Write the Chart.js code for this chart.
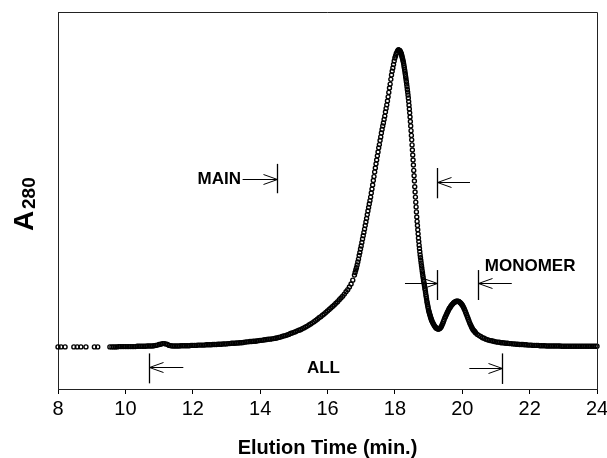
<!DOCTYPE html>
<html>
<head>
<meta charset="utf-8">
<script src="https://cdn.jsdelivr.net/npm/chart.js@4.4.0/dist/chart.umd.min.js"></script>
<style>
body { margin: 0; background: #fff; }
canvas { display: block; }
</style>
</head>
<body>
<canvas id="secChart" width="607" height="458"></canvas>
<script>
// elution time (min.)
var elutionTime = [
  8.00, 8.09, 8.21, 8.47, 8.57, 8.68, 8.83, 9.08, 9.18, 9.54,
  9.60, 9.65, 9.70, 9.75, 9.80, 9.85, 9.90, 9.95,
  10.00, 10.05, 10.10, 10.15, 10.20, 10.25, 10.30, 10.35, 10.40, 10.45, 10.50, 10.55, 10.60, 10.65, 10.70, 10.75, 10.80, 10.85, 10.90, 10.95,
  11.00, 11.05, 11.10, 11.15, 11.20, 11.25, 11.30, 11.35, 11.40, 11.45, 11.50, 11.55, 11.60, 11.65, 11.70, 11.75, 11.80, 11.85, 11.90, 11.95,
  12.00, 12.05, 12.10, 12.15, 12.20, 12.25, 12.30, 12.35, 12.40, 12.45, 12.50, 12.55, 12.60, 12.65, 12.70, 12.75, 12.80, 12.85, 12.90, 12.95,
  13.00, 13.05, 13.10, 13.15, 13.20, 13.25, 13.30, 13.35, 13.40, 13.45, 13.50, 13.55, 13.60, 13.65, 13.70, 13.75, 13.80, 13.85, 13.90, 13.95,
  14.00, 14.05, 14.10, 14.15, 14.20, 14.25, 14.30, 14.35, 14.40, 14.45, 14.50, 14.55, 14.60, 14.65, 14.70, 14.75, 14.80, 14.85, 14.90, 14.95,
  15.00, 15.05, 15.10, 15.15, 15.20, 15.25, 15.30, 15.35, 15.40, 15.45, 15.50, 15.55, 15.60, 15.65, 15.70, 15.75, 15.80, 15.85, 15.90, 15.95,
  16.00, 16.05, 16.10, 16.15, 16.20, 16.25, 16.30, 16.35, 16.40, 16.45, 16.50, 16.55, 16.60, 16.65, 16.70, 16.75, 16.80,
  16.82, 16.84, 16.86, 16.88, 16.90, 16.92, 16.94, 16.96, 16.98,
  17.00, 17.02, 17.04, 17.06, 17.08, 17.10, 17.12, 17.14, 17.16, 17.18,
  17.20, 17.22, 17.24, 17.26, 17.28, 17.30, 17.32, 17.34, 17.36, 17.38,
  17.40, 17.42, 17.44, 17.46, 17.48, 17.50, 17.52, 17.54, 17.56, 17.58,
  17.60, 17.62, 17.64, 17.66, 17.68, 17.70, 17.72, 17.74, 17.76, 17.78,
  17.80, 17.82, 17.84, 17.86, 17.88, 17.90, 17.92, 17.94, 17.96, 17.98,
  18.00, 18.02, 18.04, 18.06, 18.08, 18.10,
  18.11, 18.12, 18.13, 18.14, 18.15, 18.16, 18.17, 18.18, 18.19, 18.20,
  18.21, 18.22, 18.23, 18.24, 18.25, 18.26, 18.27, 18.28, 18.29, 18.30,
  18.31, 18.32, 18.33, 18.34, 18.35, 18.36, 18.37, 18.38, 18.39, 18.40,
  18.41, 18.42, 18.43, 18.44, 18.45, 18.46, 18.47, 18.48, 18.49, 18.50,
  18.51, 18.52, 18.53, 18.54, 18.55, 18.56, 18.57, 18.58, 18.59, 18.60,
  18.61, 18.62, 18.63, 18.64, 18.65, 18.66, 18.67, 18.68, 18.69, 18.70,
  18.71, 18.72, 18.73, 18.74, 18.75, 18.76, 18.77, 18.78, 18.79, 18.80,
  18.81, 18.82, 18.83, 18.84, 18.85, 18.86, 18.87, 18.88, 18.89, 18.90,
  18.91, 18.92, 18.93, 18.94, 18.95, 18.96, 18.97, 18.98, 18.99, 19.00,
  19.01, 19.02, 19.03, 19.04, 19.05, 19.06, 19.07, 19.08, 19.09, 19.10,
  19.12, 19.14, 19.16, 19.18, 19.20, 19.22, 19.24, 19.26, 19.28, 19.30,
  19.32, 19.34, 19.36, 19.38, 19.40, 19.42, 19.44, 19.46, 19.48, 19.50,
  19.52, 19.54, 19.56, 19.58, 19.60, 19.62, 19.64, 19.66, 19.68, 19.70,
  19.72, 19.74, 19.76, 19.78, 19.80, 19.82, 19.84, 19.86, 19.88, 19.90,
  19.92, 19.94, 19.96, 19.98, 20.00, 20.02, 20.04, 20.06, 20.08, 20.10,
  20.12, 20.14, 20.16, 20.18, 20.20, 20.22, 20.24, 20.26, 20.28, 20.30,
  20.32, 20.34, 20.36, 20.38, 20.40,
  20.45, 20.50, 20.55, 20.60, 20.65, 20.70, 20.75, 20.80, 20.85, 20.90, 20.95,
  21.00, 21.05, 21.10, 21.15, 21.20, 21.25, 21.30, 21.35, 21.40, 21.45, 21.50, 21.55, 21.60, 21.65, 21.70, 21.75, 21.80, 21.85, 21.90, 21.95,
  22.00, 22.05, 22.10, 22.15, 22.20, 22.25, 22.30, 22.35, 22.40, 22.45, 22.50, 22.55, 22.60, 22.65, 22.70, 22.75, 22.80, 22.85, 22.90, 22.95,
  23.00, 23.05, 23.10, 23.15, 23.20, 23.25, 23.30, 23.35, 23.40, 23.45, 23.50, 23.55, 23.60, 23.65, 23.70, 23.75, 23.80, 23.85, 23.90, 23.95,
  24.00
]
// A280 (mAU)
var absorbance = [
  -1, -1, -1, -1, -1, -1, -1, -1, -1, -1,
  -1, -1, -1, -1, 0, 0, 0, 0,
  0, 0, 0, 0, 0, 0, 0, 1, 1, 1, 1, 1, 1, 2, 2, 2, 2, 3, 4, 5,
  7, 8, 10, 10, 9, 7, 4, 3, 2, 2, 2, 2, 2, 3, 3, 3, 3, 3, 3, 4,
  4, 4, 4, 5, 5, 5, 5, 5, 6, 6, 6, 6, 7, 7, 7, 8, 8, 8, 9, 9,
  9, 10, 10, 11, 11, 11, 12, 12, 13, 13, 14, 15, 16, 16, 17, 17, 18, 18, 19, 20,
  21, 21, 22, 23, 24, 25, 25, 26, 27, 28, 29, 31, 32, 34, 36, 37, 39, 41, 44, 46,
  48, 50, 53, 55, 57, 60, 63, 66, 69, 73, 76, 80, 84, 88, 92, 97, 101, 106, 110, 115,
  120, 125, 130, 135, 140, 146, 151, 158, 164, 170, 177, 185, 192, 201, 211, 224, 241,
  250, 258, 266, 275, 285, 295, 307, 317, 329,
  339, 351, 363, 374, 385, 396, 408, 420, 432, 445,
  457, 469, 481, 492, 504, 518, 531, 545, 560, 573,
  589, 602, 616, 629, 643, 656, 670, 681, 695, 707,
  720, 732, 744, 754, 766, 777, 791, 803, 815, 828,
  842, 857, 872, 885, 901, 916, 928, 939, 951, 963,
  973, 980, 987, 992, 997, 1000,
  1000, 999, 998, 998, 997, 995, 992, 990, 987, 983,
  979, 974, 970, 965, 960, 954, 947, 940, 933, 926,
  918, 910, 902, 894, 885, 876, 867, 858, 848, 838,
  826, 814, 801, 788, 774, 759, 744, 728, 712, 697,
  680, 663, 646, 629, 612, 594, 576, 558, 539, 521,
  504, 487, 471, 454, 437, 422, 408, 394, 380, 366,
  354, 342, 331, 320, 309, 300, 291, 282, 273, 265,
  256, 248, 240, 232, 224, 218, 211, 204, 197, 191,
  183, 175, 168, 161, 153, 147, 141, 135, 129, 123,
  119, 115, 111, 107, 103, 99, 96, 92, 89, 86,
  81, 77, 73, 69, 66, 63, 62, 60, 59, 59,
  60, 62, 64, 68, 73, 78, 84, 90, 96, 101,
  106, 111, 116, 120, 125, 129, 132, 136, 139, 142,
  144, 147, 149, 150, 152, 152, 153, 153, 152, 152,
  150, 148, 146, 143, 140, 136, 132, 127, 122, 116,
  110, 104, 98, 92, 86, 80, 75, 70, 65, 61,
  57, 54, 52, 49, 46,
  41, 37, 34, 30, 28, 25, 23, 21, 20, 19, 17,
  16, 15, 15, 13, 13, 12, 11, 11, 10, 10, 9, 9, 8, 8, 7, 7, 7, 6, 6, 5,
  5, 5, 4, 4, 4, 4, 3, 3, 3, 3, 2, 2, 2, 2, 2, 2, 2, 2, 2, 1,
  1, 1, 1, 1, 1, 1, 1, 1, 1, 1, 1, 1, 1, 1, 1, 1, 1, 1, 1, 1,
  1
]
var xTicks = [8, 10, 12, 14, 16, 18, 20, 22, 24]

// fraction marks: bar position, bar extent, arrow tail (all in data units)
var marks = [
  {bar: 14.49, lo: 517, hi: 616, from: 13.48, y: 565},
  {bar: 19.24, lo: 500, hi: 602, from: 20.23, y: 554},
  {bar: 19.24, lo: 157, hi: 258, from: 18.30, y: 213},
  {bar: 20.46, lo: 157, hi: 258, from: 21.47, y: 213},
  {bar: 10.71, lo: -124, hi: -23, from: 11.72, y: -68},
  {bar: 21.17, lo: -126, hi: -23, from: 20.21, y: -72}
]
var markLabels = [
  {text: "MAIN", x: 13.43, y: 565, align: "right"},
  {text: "MONOMER", x: 20.67, y: 272, align: "left"},
  {text: "ALL", x: 15.88, y: -73, align: "center"}
]

var points = []
for (var i = 0; i < elutionTime.length; i++) {
  points.push({x: elutionTime[i], y: absorbance[i]})
}

Chart.defaults.font.family = "'Liberation Sans', Arial, sans-serif"
Chart.defaults.color = "#000"

var extras = {
  id: "extras",
  afterDraw: function(chart) {
    var ctx = chart.ctx
    var xs = chart.scales.x
    var ys = chart.scales.y
    var a = chart.chartArea
    ctx.save()
    // top and right frame
    ctx.strokeStyle = "#222"
    ctx.lineWidth = 1
    ctx.beginPath()
    ctx.moveTo(a.left, a.top + 0.5)
    ctx.lineTo(a.right + 0.5, a.top + 0.5)
    ctx.lineTo(a.right + 0.5, a.bottom)
    ctx.stroke()

    // brackets with arrows
    ctx.strokeStyle = "#000"
    marks.forEach(function(m) {
      var bx = Math.round(xs.getPixelForValue(m.bar)) + 0.5
      var tx = xs.getPixelForValue(m.from)
      var ay = Math.round(ys.getPixelForValue(m.y)) + 0.5
      ctx.lineWidth = 1.3
      ctx.beginPath()
      ctx.moveTo(bx, ys.getPixelForValue(m.hi))
      ctx.lineTo(bx, ys.getPixelForValue(m.lo))
      ctx.stroke()
      var d = tx > bx ? 1 : -1
      ctx.lineWidth = 1
      ctx.beginPath()
      ctx.moveTo(tx, ay)
      ctx.lineTo(bx, ay)
      ctx.moveTo(bx + d * 14, ay - 5)
      ctx.lineTo(bx, ay)
      ctx.lineTo(bx + d * 14, ay + 5)
      ctx.stroke()
    })

    ctx.fillStyle = "#000"
    ctx.textBaseline = "middle"
    markLabels.forEach(function(t) {
      ctx.font = "bold 17px 'Liberation Sans', Arial, sans-serif"
      ctx.textAlign = t.align
      ctx.fillText(t.text, xs.getPixelForValue(t.x), ys.getPixelForValue(t.y))
    })

    // y title A with subscript 280
    ctx.translate(33, 231)
    ctx.rotate(-Math.PI / 2)
    ctx.textAlign = "left"
    ctx.textBaseline = "alphabetic"
    ctx.font = "bold 28px 'Liberation Sans', Arial, sans-serif"
    ctx.fillText("A", 0, 0)
    ctx.font = "bold 19px 'Liberation Sans', Arial, sans-serif"
    ctx.fillText("280", 22, 2)
    ctx.restore()
  }
}

var myChart = document.getElementById("secChart").getContext("2d")
var chart = new Chart(myChart, {
  type: "scatter",
  data: {
    datasets: [{
      data: points,
      showLine: false,
      pointStyle: "circle",
      pointRadius: 2,
      pointBorderWidth: 1.4,
      pointBorderColor: "#000",
      pointBackgroundColor: "rgba(0,0,0,0)",
      clip: 4
    }]
  },
  options: {
    responsive: false,
    animation: false,
    events: [],
    layout: {padding: {left: 0, right: 10, top: 12, bottom: 0}},
    plugins: {legend: {display: false}, tooltip: {enabled: false}},
    scales: {
      x: {
        type: "linear",
        min: 8,
        max: 24,
        afterBuildTicks: function(s) {
          s.ticks = xTicks.map(function(v) { return {value: v} })
        },
        afterFit: function(s) {
          s.height = 69
          s.paddingLeft = 0
          s.paddingRight = 0
        },
        ticks: {font: {size: 20}, padding: 3, maxRotation: 0, color: "#000"},
        grid: {drawOnChartArea: false, drawTicks: true, tickLength: 5, color: "#000"},
        border: {display: true, color: "#222"},
        title: {
          display: true,
          text: "Elution Time (min.)",
          font: {size: 20, weight: "bold", lineHeight: 1},
          padding: {top: 0, bottom: 0},
          color: "#000"
        }
      },
      y: {
        min: -143,
        max: 1128,
        afterFit: function(s) {
          s.width = 58
        },
        ticks: {display: false},
        grid: {drawOnChartArea: false, drawTicks: false},
        border: {display: true, color: "#222"}
      }
    }
  },
  plugins: [extras]
})
</script>
</body>
</html>
